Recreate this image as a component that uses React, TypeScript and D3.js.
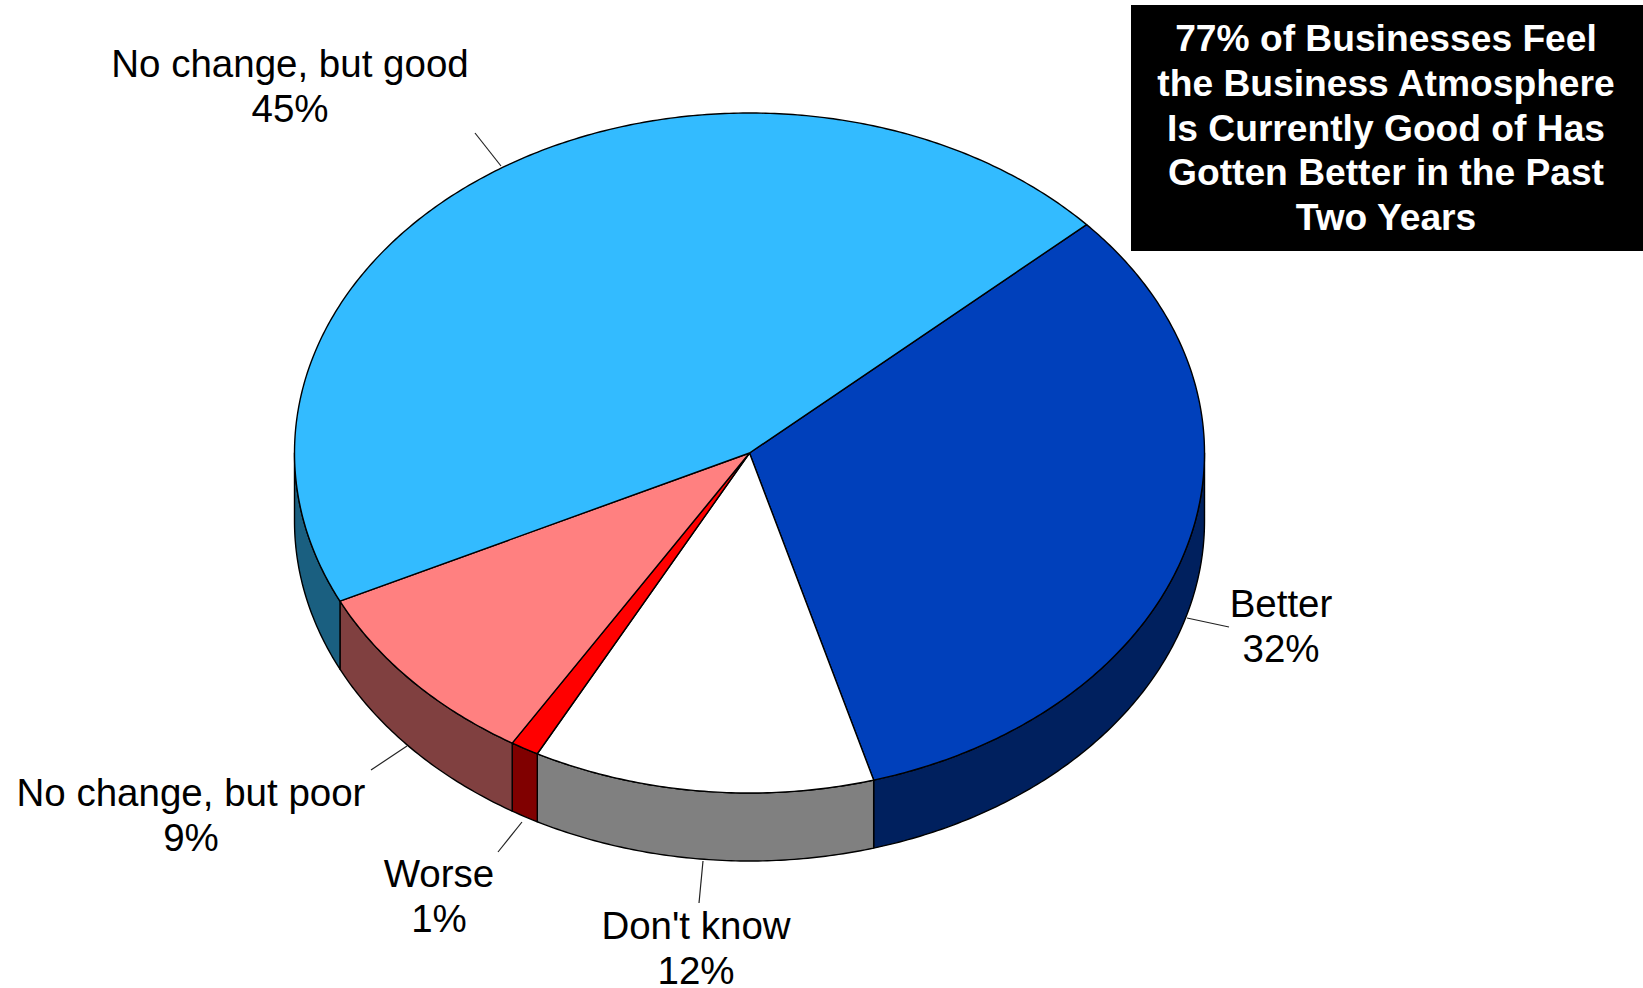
import React from "react";
import * as d3 from "d3";

// Survey shares, clockwise from the blue "Better" slice
const categories = ["Better", "Don't know", "Worse", "No change, but poor", "No change, but good"];
const shares = [32, 12, 1, 9, 45];
const topColors = ["#0040bb", "#ffffff", "#ff0000", "#ff8080", "#33bbff"];
const wallColors = ["#00205e", "#808080", "#800000", "#804040", "#1a5f80"];
const headline = [
  "77% of Businesses Feel",
  "the Business Atmosphere",
  "Is Currently Good of Has",
  "Gotten Better in the Past",
  "Two Years",
];

const W = 1643;
const H = 988;
const CX = 749.5;
const CY = 453;
const RX = 455;
const RY = 340;
const DEPTH = 68;
const START_DEG = 47.8;
const FONT = "'Liberation Sans', Arial, sans-serif";

// Label placement for each category: text centre, first baseline, leader line ends
const labelLayout = [
  { x: 1281, y: 617, leader: [1187, 618, 1229, 627] },
  { x: 696, y: 939, leader: [703, 861, 699, 903] },
  { x: 439, y: 887, leader: [522, 822, 498, 852] },
  { x: 191, y: 806, leader: [407, 746, 371, 770] },
  { x: 290, y: 77, leader: [501, 166, 475, 133] },
];

const TAU = Math.PI * 2;
const pieLayout = d3
  .pie<number>()
  .sort(null)
  .startAngle((START_DEG * Math.PI) / 180)
  .endAngle((START_DEG * Math.PI) / 180 + TAU);

// Angle is measured clockwise from twelve o'clock on the tilted disc
const px = (a: number) => CX + RX * Math.sin(a);
const py = (a: number, drop = 0) => CY - RY * Math.cos(a) + drop;

const arcSamples = (a0: number, a1: number) => {
  const n = Math.max(2, Math.ceil(Math.abs(a1 - a0) / 0.01));
  return d3.range(n + 1).map((i) => a0 + ((a1 - a0) * i) / n);
};

const path = d3.line<[number, number]>();

const topPath = (a0: number, a1: number) =>
  path([[CX, CY], ...arcSamples(a0, a1).map((a) => [px(a), py(a)] as [number, number])]) + "Z";

// Only the near half of the rim is visible; slices may cross it at either side
const visibleRanges = (a0: number, a1: number) => {
  const out: [number, number][] = [];
  for (const k of [0, 1]) {
    const lo = Math.max(a0, Math.PI / 2 + k * TAU);
    const hi = Math.min(a1, (3 * Math.PI) / 2 + k * TAU);
    if (hi > lo) out.push([lo, hi]);
  }
  return out;
};

const wallPath = (a0: number, a1: number) => {
  const angles = arcSamples(a0, a1);
  const upper = angles.map((a) => [px(a), py(a)] as [number, number]);
  const lower = angles
    .slice()
    .reverse()
    .map((a) => [px(a), py(a, DEPTH)] as [number, number]);
  return path([...upper, ...lower]) + "Z";
};

export default function App() {
  const arcs = pieLayout(shares);
  return (
    <svg
      width={W}
      height={H}
      viewBox={`0 0 ${W} ${H}`}
      style={{ position: "absolute", left: 0, top: 0, display: "block", background: "#fff" }}
    >
      {/* side walls */}
      {arcs.map((d, i) =>
        visibleRanges(d.startAngle, d.endAngle).map(([lo, hi], j) => (
          <path
            key={`wall-${i}-${j}`}
            d={wallPath(lo, hi)}
            fill={wallColors[i]}
            stroke="#000"
            strokeWidth={1.4}
            strokeLinejoin="round"
          />
        ))
      )}
      {/* leader lines */}
      {labelLayout.map((l, i) => (
        <line
          key={`leader-${i}`}
          x1={l.leader[0]}
          y1={l.leader[1]}
          x2={l.leader[2]}
          y2={l.leader[3]}
          stroke="#222"
          strokeWidth={1.2}
        />
      ))}
      {/* top face */}
      {arcs.map((d, i) => (
        <path
          key={`top-${i}`}
          d={topPath(d.startAngle, d.endAngle)}
          fill={topColors[i]}
          stroke="#000"
          strokeWidth={1.4}
          strokeLinejoin="round"
        />
      ))}
      {/* slice labels */}
      {categories.map((c, i) => (
        <text
          key={c}
          x={labelLayout[i].x}
          y={labelLayout[i].y}
          textAnchor="middle"
          fontFamily={FONT}
          fontSize={38.5}
          fill="#000"
        >
          <tspan x={labelLayout[i].x}>{c}</tspan>
          <tspan x={labelLayout[i].x} dy={45}>{`${shares[i]}%`}</tspan>
        </text>
      ))}
      {/* headline box */}
      <rect x={1131} y={5} width={W - 1131} height={246} fill="#000" />
      {headline.map((line, i) => (
        <text
          key={line}
          x={1386}
          y={51 + i * 44.8}
          textAnchor="middle"
          fontFamily={FONT}
          fontWeight={700}
          fontSize={37.2}
          fill="#fff"
        >
          {line}
        </text>
      ))}
    </svg>
  );
}
